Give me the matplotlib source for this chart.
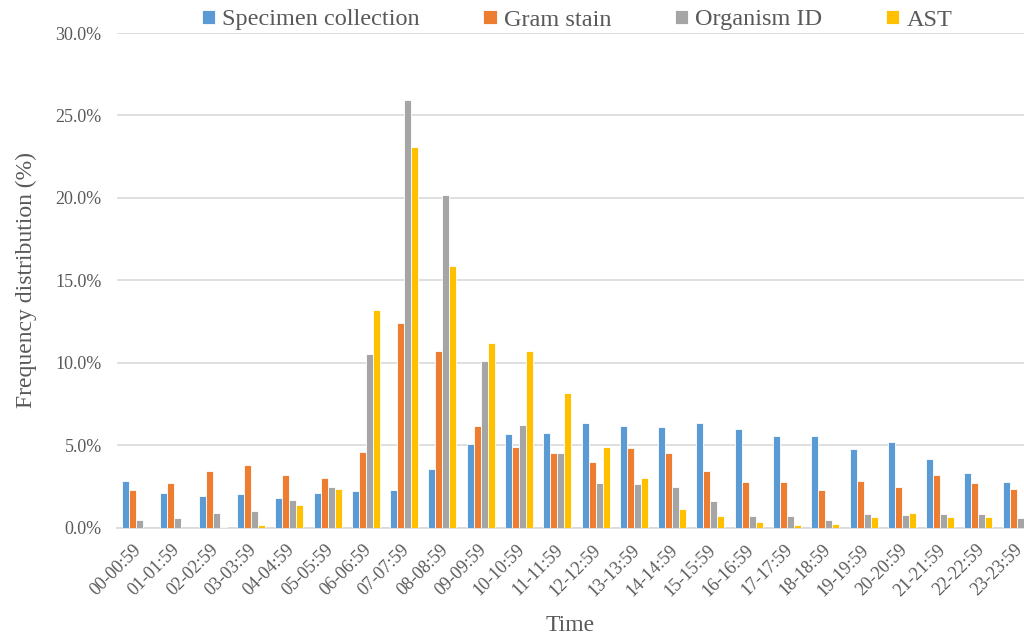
import matplotlib
matplotlib.use("Agg")
import matplotlib.pyplot as plt
import matplotlib.transforms as mtransforms
import numpy as np
from matplotlib.ticker import FuncFormatter

plt.rcParams['font.family'] = ['Liberation Serif', 'DejaVu Serif']

# time slots
hours = [f"{h:02d}-{h:02d}:59" for h in range(24)]

specimen = [2.83, 2.07, 1.90, 2.01, 1.80, 2.11, 2.20, 2.28, 3.56, 5.07, 5.68, 5.74,
            6.33, 6.16, 6.10, 6.35, 5.96, 5.56, 5.58, 4.79, 5.17, 4.18, 3.33, 2.76]
gram = [2.29, 2.69, 3.40, 3.77, 3.16, 3.00, 4.61, 12.40, 10.69, 6.18, 4.90, 4.51,
        3.98, 4.85, 4.53, 3.44, 2.75, 2.75, 2.28, 2.85, 2.48, 3.19, 2.68, 2.34]
organism = [0.47, 0.60, 0.86, 0.98, 1.64, 2.46, 10.52, 25.96, 20.16, 10.10, 6.20, 4.49,
            2.73, 2.63, 2.45, 1.62, 0.71, 0.71, 0.45, 0.81, 0.76, 0.81, 0.79, 0.58]
ast = [0.0, 0.0, 0.06, 0.14, 1.37, 2.34, 13.20, 23.10, 15.88, 11.17, 10.73, 8.18,
       4.91, 3.01, 1.13, 0.69, 0.35, 0.14, 0.24, 0.61, 0.88, 0.62, 0.62, 0.0]

series = [("Specimen collection", specimen, "#5B9BD5"),
          ("Gram stain", gram, "#ED7D31"),
          ("Organism ID", organism, "#A5A5A5"),
          ("AST", ast, "#FFC000")]

fig = plt.figure(figsize=(10.24, 6.39), dpi=100)
ax = fig.add_axes([117 / 1024, 1 - 527.5 / 639, 1 - 117 / 1024, (527.5 - 33) / 639])

x = np.arange(len(hours))
w = 0.183
for i, (name, vals, col) in enumerate(series):
    ax.bar(x + (i - 1.5) * w, vals, width=w, color=col, edgecolor="white",
           linewidth=0.6, label=name, zorder=3)

ax.set_ylim(0, 30)
ax.set_xlim(-0.5, 23.19)
ax.set_yticks(np.arange(0, 31, 5))
ax.yaxis.set_major_formatter(FuncFormatter(lambda v, p: f"{v:.1f}%"))
ax.grid(axis="y", color="#d9d9d9", linewidth=1.2, zorder=0)
for s in ["top", "right", "left"]:
    ax.spines[s].set_visible(False)
ax.spines["bottom"].set_color("#d9d9d9")
ax.spines["bottom"].set_linewidth(1.2)
ax.tick_params(length=0, colors="#595959")
ax.tick_params(axis="y", labelsize=13, pad=11)
ax.set_xticks(x)
ax.set_xticklabels(hours, rotation=45, ha="right", rotation_mode="anchor", fontsize=13)
ax.tick_params(axis="x", pad=10)
shift = mtransforms.ScaledTranslation(-3 / 100, 0, fig.dpi_scale_trans)
for lab in ax.get_xticklabels():
    lab.set_transform(lab.get_transform() + shift)

ax.set_xlabel("Time", fontsize=17, color="#595959", labelpad=11)
ax.set_ylabel("Frequency distribution (%)", fontsize=17, color="#595959", labelpad=13)

leg = fig.legend(loc="center", bbox_to_anchor=(577 / 1024, 1 - 20 / 639), ncol=4,
                 frameon=False, fontsize=17.5, handlelength=0.55, handleheight=0.55,
                 handletextpad=0.3, columnspacing=2.6)
for t in leg.get_texts():
    t.set_color("#595959")

fig.savefig("out.png", dpi=100)
